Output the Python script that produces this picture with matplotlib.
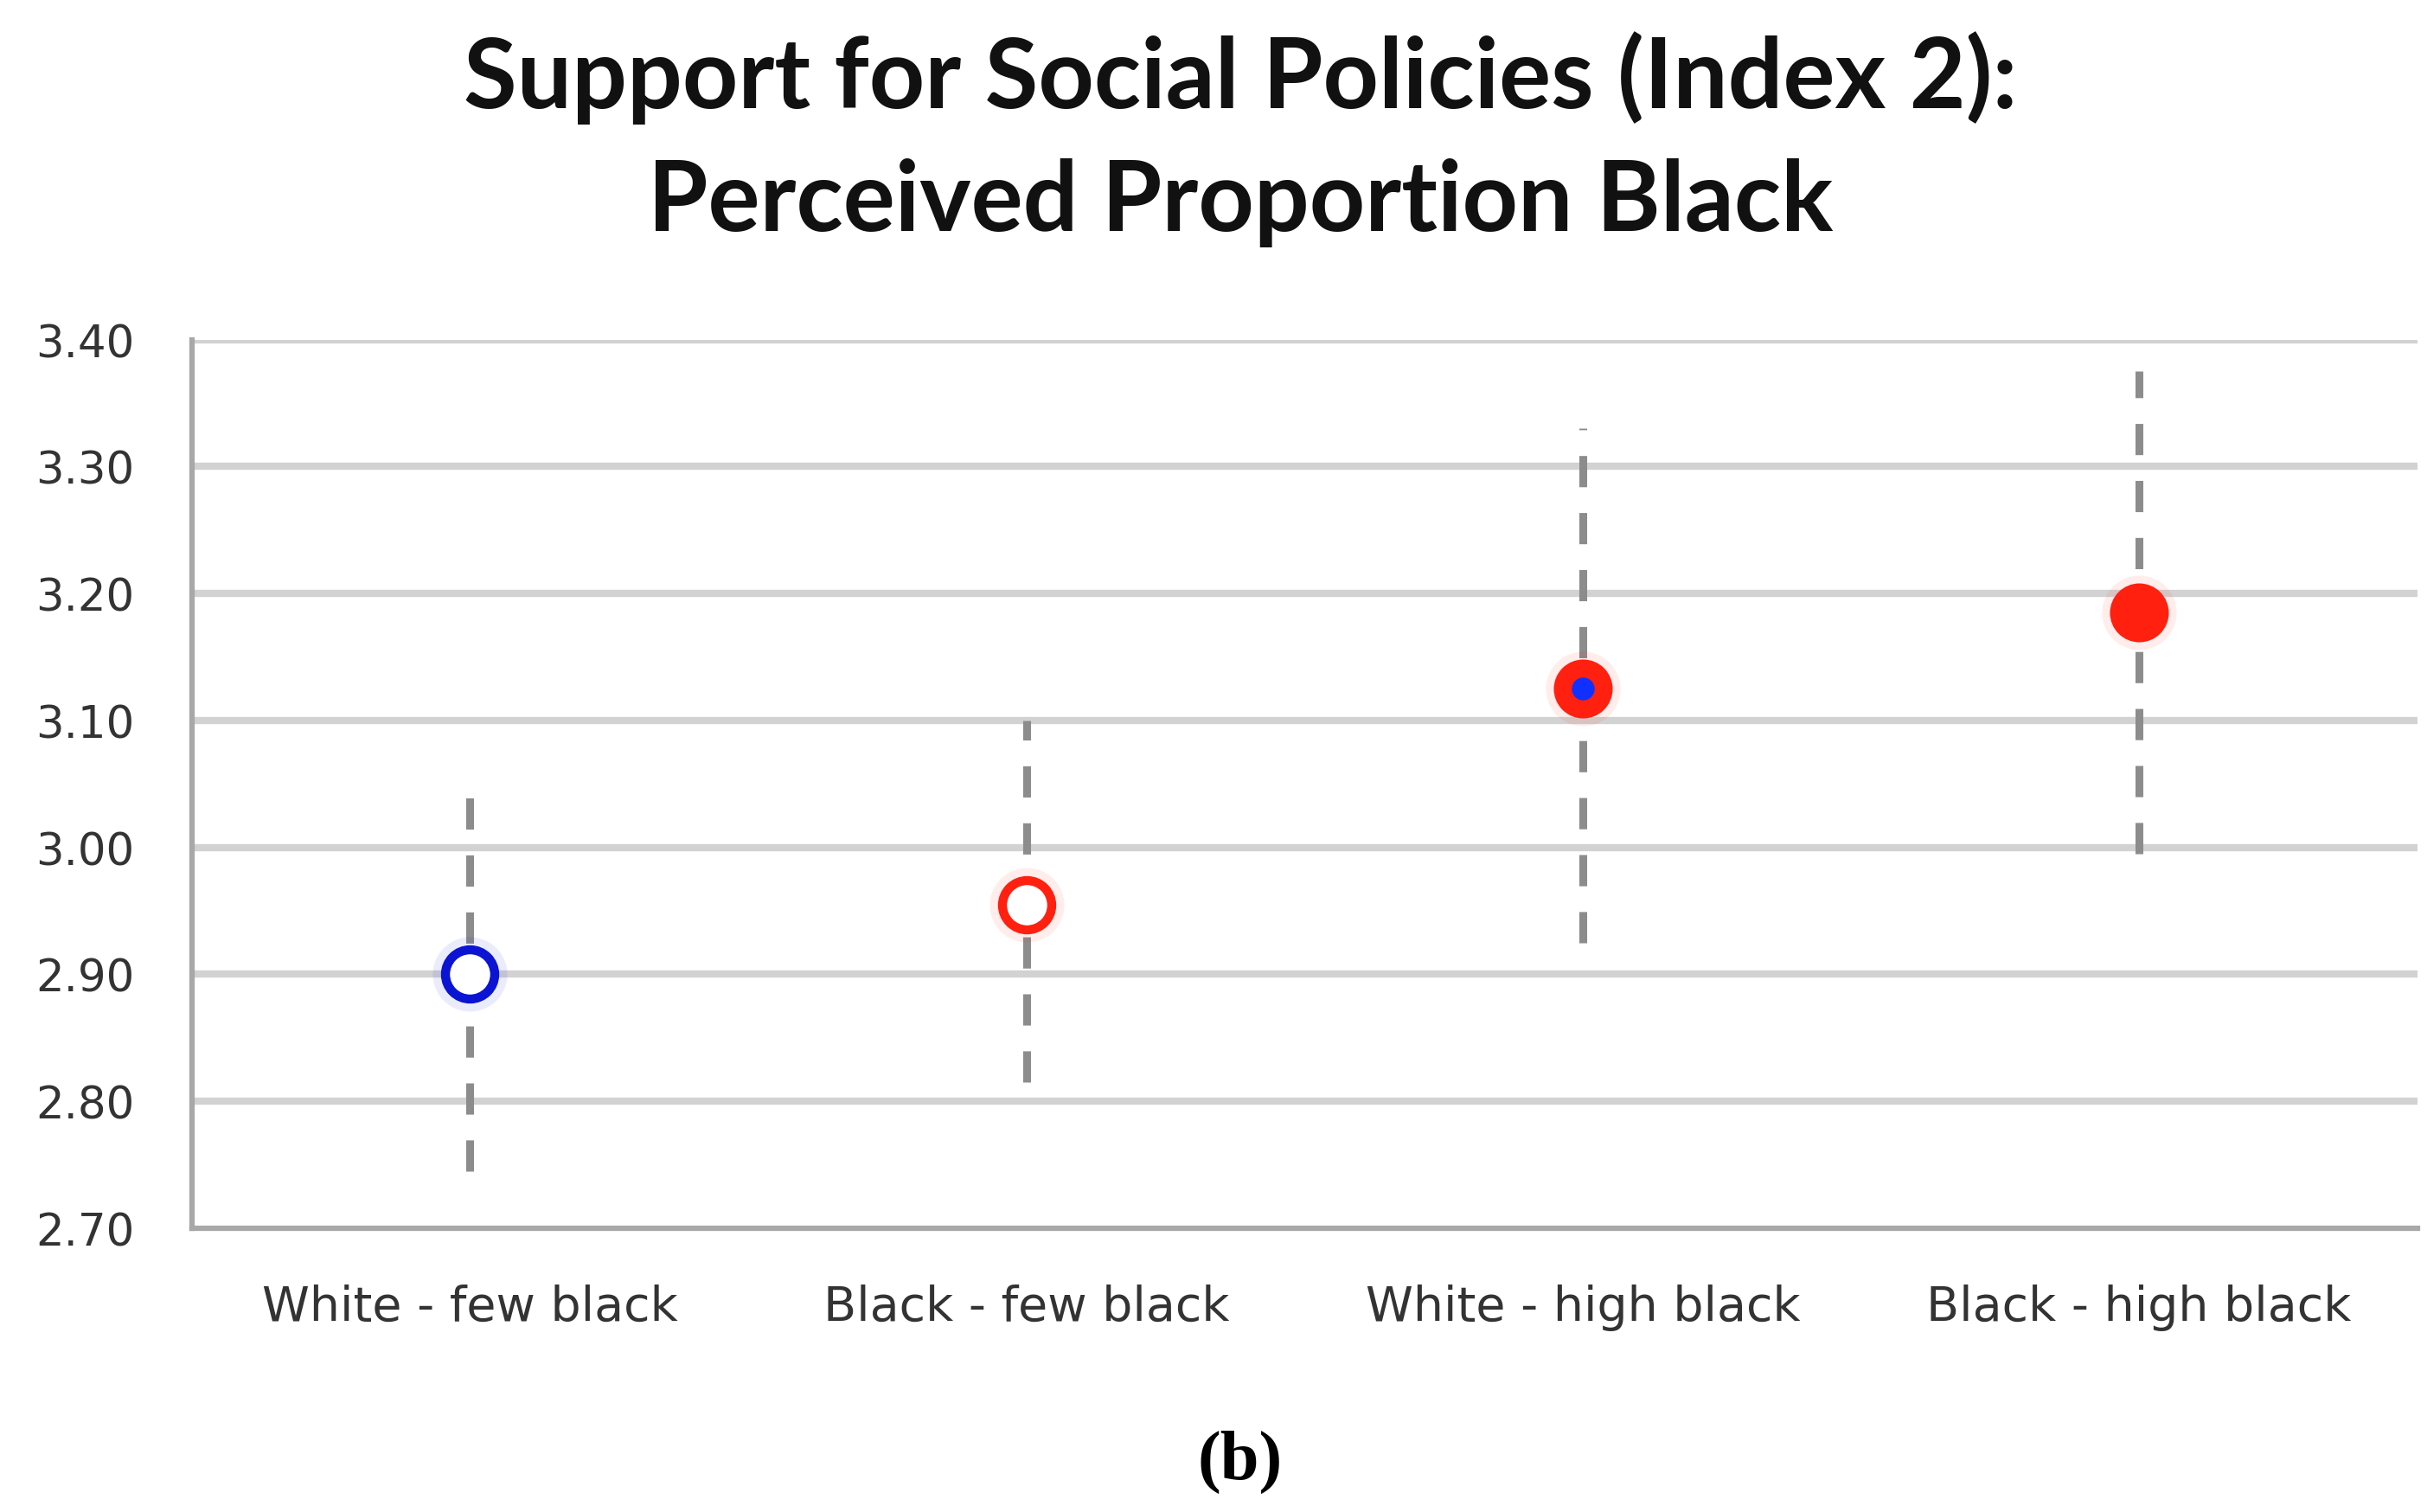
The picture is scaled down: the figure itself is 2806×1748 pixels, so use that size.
import numpy as np
import matplotlib.pyplot as plt

categories = ["White - few black", "Black - few black", "White - high black", "Black - high black"]
means = [2.90, 2.955, 3.125, 3.185]
upper = [3.05, 3.10, 3.33, 3.375]
lower = [2.745, 2.815, 2.925, 2.995]
edge_colors = ["#0a14d2", "#ff2010", "#ff2010", "#ff2010"]
face_colors = ["white", "white", "#1030ff", "#ff2010"]
yticks = [2.70, 2.80, 2.90, 3.00, 3.10, 3.20, 3.30, 3.40]

fig = plt.figure(figsize=(28.06, 17.49), dpi=100)
ax = fig.add_axes([0.079, 0.1875, 0.917, 0.5875])

x = np.arange(len(categories))

# grid lines
for t in yticks[1:]:
    ax.axhline(t, color="#d2d2d2", lw=6, zorder=1)

# error bars (dashed gray)
for i in range(len(categories)):
    ax.plot([x[i], x[i]], [lower[i], upper[i]], color="#8c8c8c", lw=6.5,
            linestyle=(0, (4, 3.3)), zorder=2, solid_capstyle="butt")

# markers with a soft halo
for i in range(len(categories)):
    ax.plot(x[i], means[i], "o", ms=62, color=edge_colors[i], alpha=0.08, mew=0, zorder=3)
    if i == 2:
        ax.plot(x[i], means[i], "o", ms=34, mfc=face_colors[i], mec=edge_colors[i], mew=15, zorder=4)
    elif i == 3:
        ax.plot(x[i], means[i], "o", ms=49, mfc=face_colors[i], mec=edge_colors[i], mew=0, zorder=4)
    else:
        ax.plot(x[i], means[i], "o", ms=41, mfc=face_colors[i], mec=edge_colors[i], mew=7.5, zorder=4)

ax.set_xlim(-0.5, 3.5)
ax.set_ylim(2.70, 3.40)
ax.set_yticks(yticks)
ax.set_yticklabels([f"{t:.2f}" for t in yticks], fontsize=37, color="#333333")
ax.set_xticks(x)
ax.set_xticklabels(categories, fontsize=40, color="#333333")
ax.tick_params(axis="y", length=0, pad=48)
ax.tick_params(axis="x", length=0, pad=46)

for s in ["top", "right"]:
    ax.spines[s].set_visible(False)
for s in ["left", "bottom"]:
    ax.spines[s].set_color("#a8a8a8")
    ax.spines[s].set_linewidth(4.5)

fig.text(0.511, 0.9485, "Support for Social Policies (Index 2):", ha="center", va="center",
         fontsize=81, fontweight="bold", family="Lato", color="#111111")
fig.text(0.511, 0.866, "Perceived Proportion Black", ha="center", va="center",
         fontsize=81, fontweight="bold", family="Lato", color="#111111")
fig.text(0.511, 0.0336, "(b)", ha="center", va="center", fontsize=58,
         fontweight="bold", family="Liberation Serif", color="black")

fig.savefig("out.png", dpi=100, facecolor="white")
